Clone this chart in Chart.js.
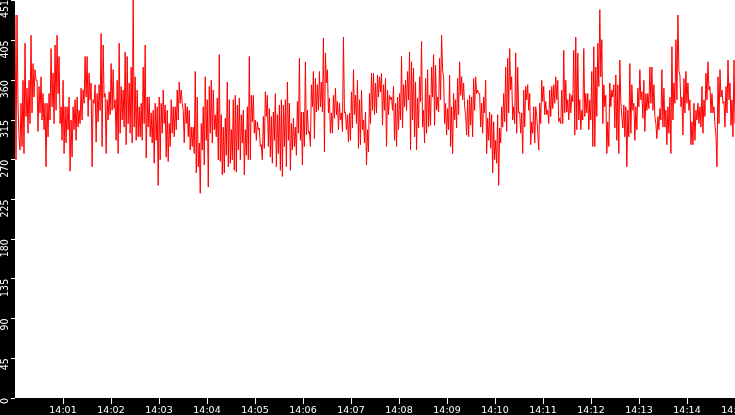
<!DOCTYPE html>
<html>
<head>
<meta charset="utf-8">
<style>
  html, body { margin: 0; padding: 0; background: #000; }
  canvas { display: block; }
</style>
</head>
<body>
<canvas id="latency-chart" width="735" height="415"></canvas>

<script src="https://cdn.jsdelivr.net/npm/chart.js"></script>
<script>
// samples, 14:00 -> 14:15
var samples = [
  434,270, 434,332, 296,281, 334,285, 360,277, 402,319, 351,300, 360,311, 411,323, 379,341,
  372,360, 360,302, 353,323, 364,315, 345,304, 334,262, 334,296, 345,315, 396,330, 368,311,
  400,326, 411,345, 387,311, 330,292, 360,277, 330,289, 330,304, 341,257, 315,273, 330,304,
  338,292, 341,307, 326,311, 351,315, 349,334, 387,341, 387,319, 368,338, 357,262, 338,334,

  355,290, 345,313, 355,326, 413,285, 400,341, 345,277, 338,315, 347,321, 379,326, 372,328,
  338,292, 360,277, 402,300, 353,315, 349,307, 392,287, 387,311, 357,300, 375,289, 451,307,
  364,292, 349,296, 330,296, 334,292, 375,311, 400,272, 341,307, 341,296, 323,289, 326,266,
  334,292, 330,241, 341,270, 334,300, 349,311, 332,273, 326,268, 311,285, 338,300, 330,296,
  330,304, 349,315, 358,334, 349,334, 326,289, 334,311, 330,296, 326,281, 307,285, 307,277,
  370,255, 341,262, 289,232, 311,281, 330,264, 364,292, 338,239, 353,300, 360,289, 349,304,

  321,296, 340,270, 389,268, 321,253, 307,255, 317,275, 358,262, 338,266, 304,270, 338,258,
  343,256, 332,281, 340,270, 321,289, 326,253, 304,275, 330,270, 387,270, 343,313, 343,300,
  315,292, 313,304, 306,285, 287,270, 319,283, 347,319, 343,285, 328,273, 319,266, 324,292,
  345,262, 321,277, 332,258, 338,251, 332,285, 338,262, 358,292, 334,258, 311,281, 317,285,
  307,275, 336,300, 385,292, 324,264, 324,285, 381,298, 326,300, 302,285, 355,330, 370,294,
  362,324, 355,326, 370,330, 358,324, 408,279, 391,357, 372,323, 340,300, 323,300, 343,317,
  351,321, 336,304, 334,315, 323,302, 409,323,

  324,304, 321,290, 323,292, 347,306, 372,321, 343,311, 360,283, 338,287, 349,304, 315,289,
  324,264, 304,279, 345,311, 368,326, 368,321, 357,323, 366,341, 364,347, 368,309, 355,326,
  362,285, 349,321, 343,338, 341,326, 353,292, 334,285, 341,304, 345,315, 387,306, 355,330,
  360,326, 370,338, 392,281, 381,315, 374,296, 358,281, 340,306, 364,336, 404,307, 326,289,
  362,300, 372,307, 343,309, 375,341, 389,309, 377,326, 341,324, 385,338, 411,372, 364,311,
  334,298, 328,304, 366,285, 330,277, 345,315, 338,306, 362,321, 381,343, 364,338, 357,330,
  321,298, 338,296, 343,309, 341,296, 362,326,

  364,345, 349,345, 345,307, 334,300, 341,323, 360,277, 317,292, 324,283, 321,255, 313,270,
  292,266, 321,241, 306,289, 330,307, 345,313, 375,302, 385,323, 396,349, 364,315, 330,311,
  391,300, 375,323, 324,300, 323,277, 349,307, 353,338, 355,326, 345,287, 313,300, 330,289,
  330,319, 302,281, 334,311, 360,336, 353,321, 336,321, 326,311, 349,319, 353,328, 355,334,
  364,338, 360,313, 317,311, 349,311, 394,323, 360,324, 338,315, 345,323, 343,336, 394,298,
  409,304, 391,315, 338,304, 326,315, 396,319, 345,323, 345,304, 338,315, 370,285, 398,285,
  375,319, 402,353, 440,364, 406,311, 355,330,

  343,277, 313,285, 357,330, 349,341, 355,306, 366,292, 355,277, 383,336, 319,306, 332,296,
  330,262, 326,296, 379,300, 355,326, 334,292, 330,304, 351,330, 372,338, 347,317, 360,302,
  345,326, 345,328, 375,334, 375,326, 355,319, 311,294, 319,304, 328,315, 372,307, 351,307,
  326,287, 330,300, 341,277, 398,315, 357,334, 406,338, 434,370, 366,330, 341,298, 362,323,
  370,334, 357,326, 338,287, 313,287, 334,292, 326,315, 334,311, 330,307, 353,300, 338,319,
  368,338, 381,349, 353,323, 345,323, 330,309, 298,262, 364,311, 372,341, 349,334, 336,307,
  353,323, 383,338, 357,309, 338,296, 383,311
];

var spanMinutes = 15;
var timeLabels = ['14:01','14:02','14:03','14:04','14:05','14:06','14:07','14:08',
                  '14:09','14:10','14:11','14:12','14:13','14:14','14:15'];
var yTickValues = [0, 45, 90, 135, 180, 225, 270, 315, 360, 405, 451];
var yMax = 451;

// paint the frame black and the plot area white
var framePlugin = {
    id: 'frame',
    beforeDraw: function(chart) {
        var ctx = chart.ctx, a = chart.chartArea;
        ctx.save();
        ctx.fillStyle = '#000';
        ctx.fillRect(0, 0, chart.width, chart.height);
        ctx.fillStyle = '#fff';
        ctx.fillRect(a.left, a.top, a.right - a.left, a.bottom - a.top);
        ctx.restore();
    }
};

var points = samples.map(function(v, i) {
    return { x: i * spanMinutes / (samples.length - 1), y: v };
});

var ctx = document.getElementById('latency-chart').getContext('2d');
var chart = new Chart(ctx, {
    type: 'line',
    data: {
        datasets: [{
            data: points,
            borderColor: '#ff0000',
            borderWidth: 1,
            pointRadius: 0,
            tension: 0,
            fill: false
        }]
    },
    options: {
        responsive: false,
        animation: false,
        devicePixelRatio: 1,
        layout: { padding: 0 },
        plugins: {
            legend: { display: false },
            tooltip: { enabled: false }
        },
        scales: {
            x: {
                type: 'linear',
                min: 0,
                max: spanMinutes,
                afterBuildTicks: function(scale) {
                    scale.ticks = timeLabels.map(function(_, i) { return { value: i + 1 }; });
                },
                afterFit: function(scale) {
                    scale.height = 17;
                    scale.paddingLeft = 0;
                    scale.paddingRight = 0;
                },
                border: { display: false },
                grid: {
                    drawOnChartArea: false,
                    drawTicks: true,
                    tickLength: 6,
                    color: '#fff'
                },
                ticks: {
                    color: '#fff',
                    padding: 1,
                    autoSkip: false,
                    maxRotation: 0,
                    font: { family: 'DejaVu Sans', size: 9.5 },
                    callback: function(value) { return timeLabels[value - 1]; }
                }
            },
            y: {
                min: 0,
                max: yMax,
                afterBuildTicks: function(scale) {
                    scale.ticks = yTickValues.map(function(v) { return { value: v }; });
                },
                afterFit: function(scale) {
                    scale.width = 15;
                    scale.paddingTop = 0;
                    scale.paddingBottom = 0;
                },
                border: { display: false },
                grid: {
                    drawOnChartArea: false,
                    drawTicks: true,
                    tickLength: 4,
                    color: '#fff'
                },
                ticks: {
                    color: '#fff',
                    padding: 6,
                    minRotation: 90,
                    maxRotation: 90,
                    font: { family: "'Liberation Sans Narrow', 'DejaVu Sans Condensed', sans-serif", size: 10.5 }
                }
            }
        }
    },
    plugins: [framePlugin]
});
</script>
</body>
</html>
